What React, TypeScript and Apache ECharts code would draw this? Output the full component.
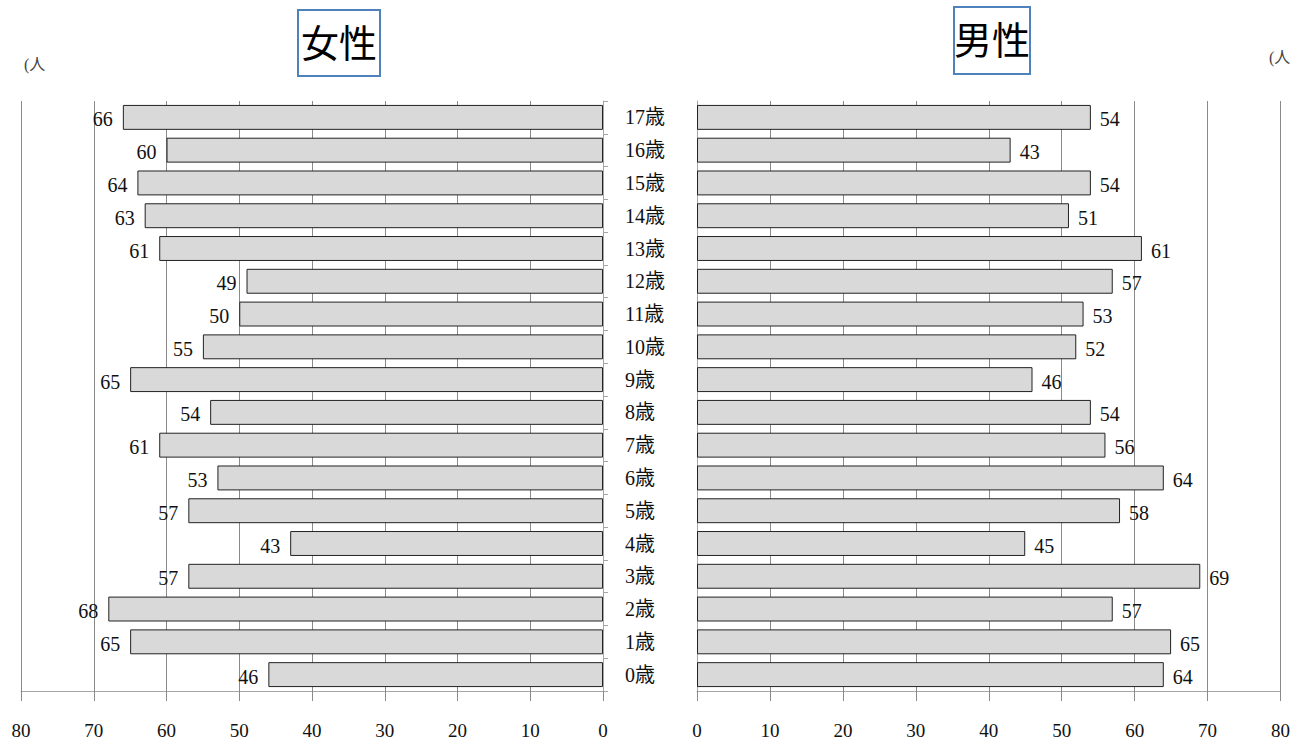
import React, { useEffect, useRef } from "react";
import * as echarts from "echarts";

const categories = ["0歳", "1歳", "2歳", "3歳", "4歳", "5歳", "6歳", "7歳", "8歳", "9歳", "10歳", "11歳", "12歳", "13歳", "14歳", "15歳", "16歳", "17歳"];
const female = [46, 65, 68, 57, 43, 57, 53, 61, 54, 65, 55, 50, 49, 61, 63, 64, 60, 66];
const male = [64, 65, 57, 69, 45, 58, 64, 56, 54, 46, 52, 53, 57, 61, 51, 54, 43, 54];
const valueTicks = { min: 0, max: 80, interval: 10 };
const titleFemale = "女性";
const titleMale = "男性";
const unitLabel = "(人";

const SERIF = "'Liberation Serif', 'DejaVu Serif', 'Noto Sans CJK JP', serif";

export default function App() {
  const ref = useRef<HTMLDivElement>(null);
  useEffect(() => {
    if (!ref.current) return;
    const chart = echarts.init(ref.current, null, { renderer: "svg" });
    const gridColor = "#8a8a8a";
    const axisColor = "#a6a6a6";
    const xAxisCommon = (gridIndex: number, inverse: boolean) => ({
      type: "value",
      gridIndex,
      inverse,
      min: valueTicks.min,
      max: valueTicks.max,
      interval: valueTicks.interval,
      axisLine: { show: true, lineStyle: { color: axisColor, width: 1 } },
      axisTick: { show: true, length: 10, lineStyle: { color: gridColor } },
      splitLine: { show: true, lineStyle: { color: gridColor, width: 1 } },
      axisLabel: { margin: 30, fontSize: 19, color: "#111", fontFamily: SERIF },
    });
    const barCommon = {
      type: "bar",
      barCategoryGap: "24%",
      itemStyle: { color: "#d9d9d9", borderColor: "#222", borderWidth: 1 },
    };
    chart.setOption({
      animation: false,
      backgroundColor: "#ffffff",
      grid: [
        { left: 21, width: 582, top: 101, height: 590 },
        { left: 697, width: 584, top: 101, height: 590 },
      ],
      xAxis: [xAxisCommon(0, true), xAxisCommon(1, false)],
      yAxis: [
        {
          type: "category",
          gridIndex: 0,
          data: categories,
          position: "right",
          axisLine: { show: true, lineStyle: { color: axisColor } },
          axisTick: { show: true, length: 5, lineStyle: { color: axisColor } },
          axisLabel: { margin: 22, fontSize: 20, color: "#111", fontFamily: SERIF },
        },
        {
          type: "category",
          gridIndex: 1,
          data: categories,
          position: "left",
          axisLine: { show: true, lineStyle: { color: axisColor } },
          axisTick: { show: false },
          axisLabel: { show: false },
        },
      ],
      series: [
        {
          ...barCommon,
          name: titleFemale,
          xAxisIndex: 0,
          yAxisIndex: 0,
          data: female,
          label: { show: true, position: "left", distance: 10, offset: [0, 2], fontSize: 20, color: "#111", fontFamily: SERIF },
        },
        {
          ...barCommon,
          name: titleMale,
          xAxisIndex: 1,
          yAxisIndex: 1,
          data: male,
          label: { show: true, position: "right", distance: 9, offset: [0, 2], fontSize: 20, color: "#111", fontFamily: SERIF },
        },
      ],
      graphic: [
        {
          type: "rect",
          shape: { x: 298, y: 10, width: 82, height: 66 },
          style: { fill: "#fff", stroke: "#4f81bd", lineWidth: 2 },
        },
        {
          type: "text",
          x: 339,
          y: 44,
          style: { text: titleFemale, fontSize: 38, fill: "#000", align: "center", verticalAlign: "middle", fontFamily: SERIF },
        },
        {
          type: "rect",
          shape: { x: 954, y: 7, width: 76, height: 67 },
          style: { fill: "#fff", stroke: "#4f81bd", lineWidth: 2 },
        },
        {
          type: "text",
          x: 992,
          y: 41,
          style: { text: titleMale, fontSize: 38, fill: "#000", align: "center", verticalAlign: "middle", fontFamily: SERIF },
        },
        {
          type: "text",
          x: 24,
          y: 64,
          style: { text: unitLabel, fontSize: 16, fill: "#444", align: "left", verticalAlign: "middle", fontFamily: SERIF },
        },
        {
          type: "text",
          x: 1269,
          y: 57,
          style: { text: unitLabel, fontSize: 16, fill: "#444", align: "left", verticalAlign: "middle", fontFamily: SERIF },
        },
      ],
    });
    return () => chart.dispose();
  }, []);
  return (
    <div
      ref={ref}
      style={{ position: "absolute", left: 0, top: 0, width: 1293, height: 742, background: "#fff" }}
    />
  );
}
